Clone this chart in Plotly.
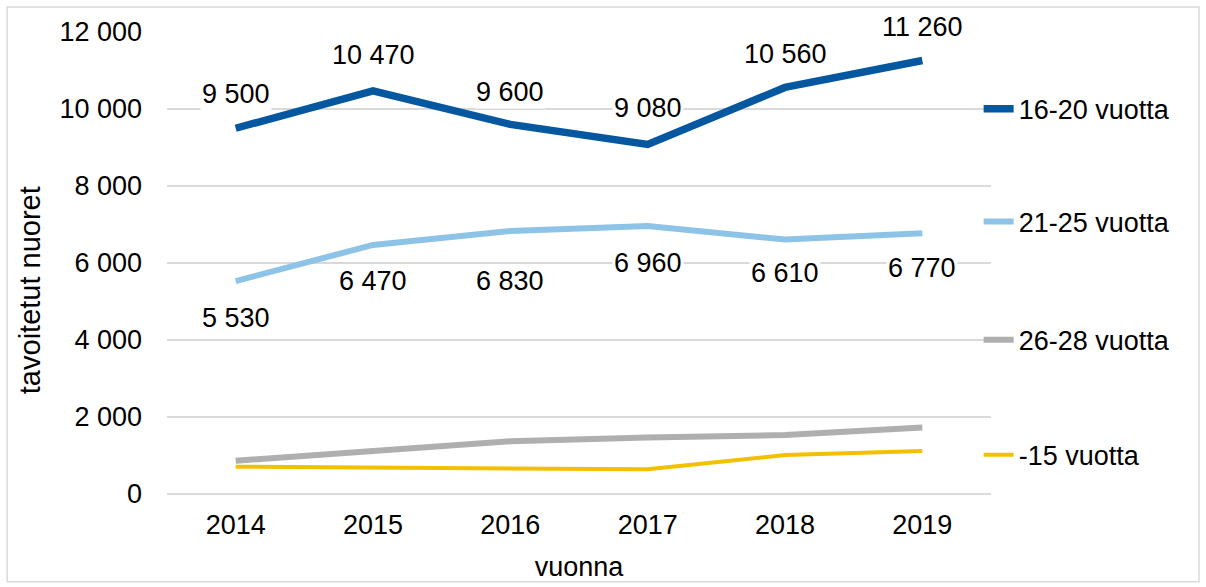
import plotly.graph_objects as go

years = ["2014", "2015", "2016", "2017", "2018", "2019"]
s16_20 = [9500, 10470, 9600, 9080, 10560, 11260]
s21_25 = [5530, 6470, 6830, 6960, 6610, 6770]
s26_28 = [865, 1120, 1370, 1470, 1530, 1730]
s_15 = [710, 680, 650, 640, 1010, 1115]

series_names = ["16-20 vuotta", "21-25 vuotta", "26-28 vuotta", "-15 vuotta"]
colors = ["#0557A0", "#8DC3E6", "#AFAFAF", "#F2C000"]
widths = [7.5, 6, 6, 4]
legend_ids = ["legend", "legend2", "legend3", "legend4"]
legend_y = [0.833, 0.589, 0.333, 0.084]

FONT = "Liberation Sans, Arial, sans-serif"
FS = 27

fig = go.Figure()
all_series = [s16_20, s21_25, s26_28, s_15]
for name, vals, col, w, lid in zip(series_names, all_series, colors, widths, legend_ids):
    fig.add_trace(go.Scatter(
        x=years, y=vals, mode="lines", name=name,
        line=dict(color=col, width=w),
        legend=lid, showlegend=True,
    ))

def fmt(v):
    return f"{v:,}".replace(",", " ")

ann = []
up_shift = [34, 36, 32, 36, 33, 33]
for i, (v, sh) in enumerate(zip(s16_20, up_shift)):
    ann.append(dict(x=i, y=v, xref="x", yref="y", text=fmt(v), showarrow=False,
                    yshift=sh, bgcolor="white", borderpad=1,
                    font=dict(size=FS, color="black", family=FONT)))
lb_shift = [-37, -36, -50, -37, -33, -35]
for i, (v, sh) in enumerate(zip(s21_25, lb_shift)):
    ann.append(dict(x=i, y=v, xref="x", yref="y", text=fmt(v), showarrow=False,
                    yshift=sh, bgcolor="white", borderpad=1,
                    font=dict(size=FS, color="black", family=FONT)))

ann.append(dict(x=-0.167, y=0.442, xref="paper", yref="paper", text="tavoitetut nuoret",
                xanchor="center", yanchor="middle",
                textangle=-90, showarrow=False, font=dict(size=29, color="black", family=FONT)))

layout_legends = {}
for lid, ly in zip(legend_ids, legend_y):
    layout_legends[lid] = dict(x=0.985, y=ly, xref="paper", yref="paper",
                               xanchor="left", yanchor="middle",
                               bgcolor="rgba(0,0,0,0)",
                               font=dict(size=FS, color="black", family=FONT))

fig.update_layout(
    width=1206, height=587,
    margin=dict(l=167, r=215, t=32, b=93, autoexpand=False),
    paper_bgcolor="white", plot_bgcolor="white",
    separators=", ",
    font=dict(family=FONT, size=FS, color="black"),
    annotations=ann,
    shapes=[dict(type="rect", xref="paper", yref="paper",
                 x0=-0.194, x1=1.2524, y0=-0.19, y1=1.054,
                 line=dict(color="#D9D9D9", width=1.5), fillcolor="rgba(0,0,0,0)")],
    **layout_legends,
)
fig.update_xaxes(
    type="category", range=[-0.5, 5.5], showgrid=False, showline=False,
    ticks="", ticklabelstandoff=12, automargin=False,
    tickfont=dict(size=FS, color="black", family=FONT),
    title=dict(text="vuonna", standoff=18, font=dict(size=FS, color="black", family=FONT)),
)
fig.update_yaxes(
    range=[0, 12000], dtick=2000, tickformat=",", showgrid=True, automargin=False,
    gridcolor="#D9D9D9", gridwidth=1.5, zeroline=True, zerolinecolor="#D9D9D9",
    zerolinewidth=1.5, showline=False, ticks="", ticklabelstandoff=24,
    tickfont=dict(size=FS, color="black", family=FONT),
)

fig.write_html("out.html", config={"displayModeBar": False},
               post_script="document.body.style.margin='0';")
